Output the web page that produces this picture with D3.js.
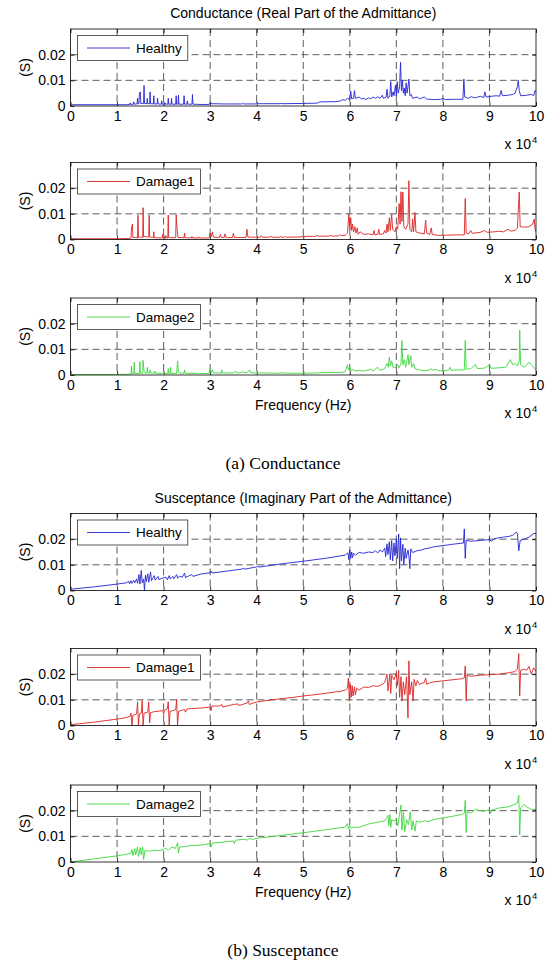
<!DOCTYPE html>
<html>
<head>
<meta charset="utf-8">
<script src="https://cdn.jsdelivr.net/npm/d3@7"></script>
<style>
  body { margin: 0; background: #fff; }
  svg { display: block; }
  text { font-family: "Liberation Sans", Arial, sans-serif; fill: #000; }
</style>
</head>
<body>
<svg id="chart" width="550" height="966"></svg>
<script>
// frequency in units of 10^4 Hz, admittance in S
const freqTicks = [0, 1, 2, 3, 4, 5, 6, 7, 8, 9, 10];
const admTicks = [0, 0.01, 0.02];
const seriesNames = ['Healthy', 'Damage1', 'Damage2'];
const titles = ['Conductance (Real Part of the Admittance)', 'Susceptance (Imaginary Part of the Admittance)'];
const captions = ['(a) Conductance', '(b) Susceptance'];

const condHealthy = [[0,.0005],[1.2,.0005],[1.27,.0006],[1.28,.0012],[1.29,.0006],[1.35,.0007],[1.36,.0016],[1.37,.0007],[1.43,.0008],[1.44,.003],[1.45,.0008],[1.47,.0009],[1.48,.005],[1.5,.0055],[1.51,.001],[1.57,.001],[1.58,.008],[1.59,.001],[1.64,.0009],[1.65,.003],[1.66,.0009],[1.7,.0009],[1.71,.0055],[1.72,.0009],[1.78,.0008],[1.79,.004],[1.8,.0008],[1.86,.0008],[1.87,.003],[1.88,.0008],[1.95,.0007],[1.96,.002],[1.97,.0007],[2.02,.0007],[2.03,.0012],[2.04,.0007],[2.09,.0007],[2.1,.003],[2.11,.0007],[2.16,.0007],[2.17,.003],[2.18,.0007],[2.26,.0007],[2.27,.004],[2.28,.0007],[2.31,.0007],[2.32,.0042],[2.33,.0007],[2.43,.0007],[2.44,.004],[2.45,.0007],[2.5,.0007],[2.51,.002],[2.52,.0007],[2.61,.0007],[2.62,.0045],[2.63,.0007],[2.8,.0006],[2.98,.0006],[3.0,.0015],[3.03,.0009],[3.3,.0008],[3.68,.0008],[3.7,.0011],[3.72,.0008],[3.98,.0008],[4.0,.0013],[4.03,.0009],[4.5,.0009],[4.52,.0011],[4.54,.0009],[5.0,.001],[5.3,.0011],[5.35,.0016],[5.7,.0017],[5.8,.002],[5.85,.0025],[5.9,.0022],[5.95,.003],[6.0,.0025],[6.02,.0058],[6.04,.0028],[6.08,.003],[6.1,.006],[6.12,.003],[6.2,.0035],[6.25,.0028],[6.3,.003],[6.35,.0025],[6.4,.0032],[6.45,.0028],[6.5,.0035],[6.55,.003],[6.6,.0036],[6.65,.003],[6.7,.0042],[6.72,.003],[6.78,.0035],[6.8,.0065],[6.82,.003],[6.86,.004],[6.88,.0095],[6.9,.0035],[6.93,.0055],[6.95,.004],[6.98,.008],[7.0,.004],[7.02,.0095],[7.04,.005],[7.07,.0075],[7.09,.017],[7.11,.006],[7.13,.01],[7.15,.005],[7.17,.007],[7.19,.004],[7.21,.009],[7.23,.005],[7.25,.0075],[7.27,.0105],[7.29,.004],[7.32,.0045],[7.35,.003],[7.45,.0035],[7.5,.0028],[7.6,.0035],[7.65,.0027],[7.8,.0025],[7.95,.0026],[8.0,.003],[8.05,.0025],[8.2,.0026],[8.43,.0026],[8.45,.0105],[8.47,.0035],[8.55,.003],[8.6,.0036],[8.7,.0032],[8.8,.0038],[8.88,.0033],[8.9,.0055],[8.93,.0035],[9.05,.0038],[9.15,.004],[9.22,.0038],[9.25,.006],[9.28,.004],[9.4,.0042],[9.5,.0045],[9.55,.005],[9.6,.0075],[9.62,.01],[9.64,.006],[9.67,.004],[9.8,.0042],[9.9,.0045],[9.95,.004],[9.98,.006],[10,.0055]];

const condDamage1 = [[0,.0003],[1.0,.0003],[1.25,.0004],[1.3,.0006],[1.31,.0045],[1.33,.006],[1.34,.0008],[1.4,.0008],[1.44,.0006],[1.45,.0095],[1.46,.0008],[1.5,.001],[1.52,.0008],[1.55,.0008],[1.56,.0124],[1.57,.001],[1.6,.0012],[1.63,.001],[1.68,.001],[1.69,.0095],[1.7,.001],[1.78,.0008],[1.79,.003],[1.8,.0007],[1.97,.0006],[1.98,.002],[1.99,.0006],[2.04,.0006],[2.05,.0015],[2.06,.0006],[2.09,.0006],[2.1,.0095],[2.11,.0008],[2.15,.0007],[2.26,.0007],[2.27,.0097],[2.29,.004],[2.31,.0008],[2.44,.0007],[2.45,.0025],[2.46,.0007],[2.6,.0006],[2.61,.0012],[2.62,.0006],[2.75,.0006],[2.76,.001],[2.77,.0006],[2.98,.0006],[3.0,.0025],[3.02,.0012],[3.05,.003],[3.07,.0009],[3.2,.0008],[3.22,.002],[3.24,.0008],[3.3,.0008],[3.32,.0022],[3.34,.0008],[3.48,.0008],[3.5,.0025],[3.52,.0008],[3.77,.0008],[3.79,.004],[3.81,.001],[3.84,.0009],[4.08,.0009],[4.1,.0015],[4.12,.0009],[4.28,.0009],[4.3,.0014],[4.32,.0009],[4.5,.0009],[4.52,.0012],[4.54,.0009],[4.6,.0009],[4.62,.0012],[4.64,.0009],[4.95,.001],[5.0,.0012],[5.2,.0012],[5.28,.0013],[5.3,.0017],[5.32,.0013],[5.55,.0013],[5.6,.0016],[5.62,.0013],[5.75,.0014],[5.8,.0019],[5.82,.0015],[5.9,.0016],[5.95,.0025],[5.98,.01],[6.0,.004],[6.02,.0085],[6.04,.0035],[6.06,.006],[6.08,.003],[6.11,.005],[6.13,.0025],[6.16,.0045],[6.18,.002],[6.22,.003],[6.3,.002],[6.4,.0022],[6.5,.0018],[6.52,.0035],[6.54,.0018],[6.6,.002],[6.62,.004],[6.64,.002],[6.72,.0022],[6.75,.0035],[6.78,.0025],[6.8,.006],[6.82,.003],[6.85,.0085],[6.87,.0035],[6.9,.0098],[6.92,.004],[6.97,.003],[7.0,.005],[7.03,.004],[7.06,.014],[7.08,.006],[7.1,.0186],[7.12,.007],[7.14,.0185],[7.16,.005],[7.2,.004],[7.25,.006],[7.27,.0229],[7.29,.004],[7.33,.003],[7.35,.008],[7.37,.003],[7.4,.0105],[7.42,.003],[7.5,.0025],[7.6,.0022],[7.63,.0075],[7.65,.0025],[7.72,.002],[7.75,.0045],[7.77,.002],[7.9,.0016],[8.1,.0017],[8.3,.0018],[8.46,.0018],[8.48,.016],[8.5,.0025],[8.55,.0022],[8.6,.0035],[8.63,.0024],[8.8,.0028],[8.9,.0035],[8.95,.0028],[9.1,.003],[9.2,.0032],[9.3,.003],[9.4,.004],[9.45,.0033],[9.55,.0035],[9.6,.0045],[9.64,.0185],[9.66,.005],[9.75,.0048],[9.85,.005],[9.93,.006],[9.96,.008],[9.98,.004],[10,.003]];

const condDamage2 = [[0,.0002],[1.0,.0002],[1.25,.0003],[1.3,.0004],[1.31,.0035],[1.32,.0005],[1.36,.0006],[1.37,.005],[1.38,.0006],[1.48,.0006],[1.49,.0052],[1.5,.0007],[1.55,.0007],[1.56,.0057],[1.58,.0015],[1.6,.0008],[1.64,.0008],[1.65,.003],[1.66,.0008],[1.7,.0008],[1.71,.002],[1.72,.0008],[1.8,.0007],[1.81,.0015],[1.82,.0007],[1.98,.0006],[2.0,.001],[2.02,.0006],[2.09,.0006],[2.1,.0025],[2.11,.0006],[2.14,.0006],[2.15,.003],[2.16,.0006],[2.28,.0006],[2.3,.0055],[2.32,.001],[2.35,.0007],[2.44,.0007],[2.45,.002],[2.46,.0007],[2.6,.0006],[2.61,.001],[2.62,.0006],[2.75,.0006],[2.76,.0008],[2.77,.0006],[2.98,.0006],[3.0,.0025],[3.02,.001],[3.05,.002],[3.07,.0008],[3.24,.0008],[3.25,.002],[3.26,.0008],[3.5,.0008],[3.55,.0015],[3.57,.0008],[3.65,.0009],[3.7,.0013],[3.72,.0009],[3.8,.001],[3.85,.002],[3.87,.0009],[4.0,.0008],[4.5,.0007],[4.55,.0009],[4.6,.0007],[5.0,.0007],[5.3,.0008],[5.35,.0009],[5.8,.001],[5.9,.0013],[5.95,.004],[5.97,.002],[6.0,.003],[6.03,.0018],[6.08,.0022],[6.1,.0016],[6.2,.0018],[6.3,.0015],[6.45,.0022],[6.5,.0016],[6.6,.003],[6.65,.0018],[6.75,.0025],[6.8,.0045],[6.83,.003],[6.85,.007],[6.87,.0035],[6.9,.0055],[6.93,.0028],[6.97,.003],[7.03,.004],[7.06,.0028],[7.1,.0045],[7.12,.0134],[7.14,.004],[7.17,.006],[7.2,.003],[7.25,.008],[7.27,.004],[7.31,.0075],[7.33,.003],[7.37,.0045],[7.4,.0025],[7.5,.002],[7.6,.0017],[7.7,.0018],[7.75,.0025],[7.78,.0018],[7.85,.0022],[7.9,.0017],[8.0,.0016],[8.13,.002],[8.15,.003],[8.18,.0018],[8.3,.002],[8.46,.002],[8.48,.0135],[8.5,.0022],[8.6,.0025],[8.7,.004],[8.74,.0025],[8.9,.0027],[9.0,.004],[9.04,.0026],[9.2,.0028],[9.35,.003],[9.45,.006],[9.5,.004],[9.55,.0045],[9.6,.0035],[9.64,.0055],[9.65,.0175],[9.67,.004],[9.75,.003],[9.85,.005],[9.9,.004],[10,.002]];

const suscHealthy = [[0,.0005],[0.5,.0014],[1.0,.0025],[1.2,.003],[1.25,.0036],[1.27,.0026],[1.3,.0038],[1.32,.0028],[1.36,.004],[1.38,.003],[1.42,.0045],[1.44,.0028],[1.47,.0062],[1.49,.0025],[1.52,.0078],[1.54,.003],[1.57,.0045],[1.59,0],[1.61,.006],[1.63,.0035],[1.66,.0065],[1.68,.0032],[1.72,.0072],[1.74,.0038],[1.8,.0058],[1.82,.004],[1.88,.0055],[1.9,.0042],[1.97,.0048],[2.05,.0052],[2.08,.0042],[2.12,.0058],[2.14,.0045],[2.2,.0055],[2.22,.0046],[2.28,.0062],[2.3,.0048],[2.34,.0056],[2.4,.0052],[2.45,.0068],[2.47,.005],[2.55,.0058],[2.6,.0062],[2.63,.0055],[2.8,.0064],[3.0,.0069],[3.02,.0076],[3.04,.0068],[3.5,.0079],[3.7,.0084],[3.72,.0088],[3.74,.0083],[4.0,.0092],[4.02,.0096],[4.04,.0091],[4.5,.0103],[5.0,.0114],[5.5,.0126],[5.9,.0138],[5.96,.0147],[5.98,.012],[6.0,.0158],[6.02,.0125],[6.04,.015],[6.06,.0128],[6.08,.0145],[6.12,.0138],[6.2,.0148],[6.3,.0145],[6.4,.015],[6.5,.0148],[6.55,.0155],[6.6,.0146],[6.65,.0158],[6.7,.015],[6.75,.0165],[6.77,.0132],[6.8,.0182],[6.82,.014],[6.85,.019],[6.87,.012],[6.9,.0195],[6.92,.0115],[6.95,.0185],[6.97,.0135],[7.0,.02],[7.02,.0125],[7.05,.022],[7.07,.0085],[7.09,.0205],[7.11,.0115],[7.14,.018],[7.16,.01],[7.19,.0165],[7.21,.0125],[7.25,.0158],[7.27,.0135],[7.29,.0085],[7.31,.0162],[7.35,.0148],[7.45,.0155],[7.55,.0158],[7.6,.0162],[7.7,.0165],[7.8,.017],[8.0,.0175],[8.2,.018],[8.44,.0185],[8.46,.024],[8.48,.0125],[8.5,.0195],[8.6,.0192],[8.8,.0195],[9.0,.0198],[9.05,.0192],[9.1,.0202],[9.3,.0208],[9.4,.021],[9.5,.0215],[9.58,.0228],[9.6,.0222],[9.63,.0155],[9.66,.0195],[9.75,.02],[9.85,.0208],[9.95,.0222],[10,.0222]];

const suscDamage1 = [[0,.0003],[0.5,.0013],[1.0,.0025],[1.2,.0031],[1.28,.0036],[1.3,.0048],[1.32,0],[1.34,.004],[1.38,.0042],[1.42,.0045],[1.44,.0092],[1.46,0],[1.48,.0045],[1.52,.0048],[1.54,.0097],[1.56,0],[1.58,.0048],[1.62,.005],[1.66,.0052],[1.68,.0092],[1.7,.001],[1.72,.005],[1.8,.0054],[1.9,.0056],[1.98,.0058],[2.0,.0045],[2.02,.006],[2.08,.0065],[2.1,.0092],[2.12,0],[2.14,.0055],[2.2,.0058],[2.26,.0062],[2.28,.0102],[2.3,0],[2.32,.0055],[2.4,.006],[2.45,.0062],[2.47,.0052],[2.5,.0064],[2.6,.0066],[2.8,.0068],[3.0,.0072],[3.02,.0058],[3.04,.0076],[3.2,.0076],[3.25,.0082],[3.27,.0072],[3.5,.0082],[3.6,.0084],[3.62,.0078],[3.8,.0088],[3.82,.0096],[3.84,.0082],[4.0,.0092],[4.3,.0099],[4.5,.0104],[4.8,.011],[5.0,.0115],[5.3,.0121],[5.5,.0126],[5.7,.0131],[5.72,.0135],[5.74,.013],[5.9,.0138],[5.95,.0145],[5.97,.0185],[5.99,.0095],[6.01,.016],[6.03,.011],[6.05,.0155],[6.07,.0115],[6.1,.015],[6.12,.012],[6.15,.0145],[6.2,.0138],[6.3,.015],[6.4,.0148],[6.5,.0155],[6.6,.0152],[6.7,.016],[6.75,.0168],[6.8,.02],[6.82,.0135],[6.86,.02],[6.88,.0125],[6.9,.0195],[6.95,.0178],[7.0,.0205],[7.02,.0155],[7.05,.0215],[7.07,.011],[7.1,.019],[7.12,.0095],[7.15,.017],[7.18,.012],[7.22,.019],[7.25,.003],[7.27,.0252],[7.29,.012],[7.33,.017],[7.36,.0095],[7.38,.018],[7.42,.0155],[7.45,.0175],[7.5,.016],[7.6,.0168],[7.63,.0185],[7.65,.016],[7.7,.0165],[7.8,.017],[8.0,.0174],[8.2,.0178],[8.4,.0182],[8.46,.0186],[8.48,.0232],[8.5,.0095],[8.52,.0195],[8.6,.0192],[8.8,.0196],[9.0,.0198],[9.2,.02],[9.4,.0205],[9.55,.021],[9.6,.022],[9.63,.028],[9.65,.0115],[9.67,.0215],[9.75,.022],[9.8,.0215],[9.85,.023],[9.9,.02],[9.95,.0225],[10,.021]];

const suscDamage2 = [[0,0],[0.5,.0012],[1.0,.0024],[1.2,.003],[1.3,.0034],[1.32,.005],[1.34,.0025],[1.38,.0052],[1.4,.0028],[1.44,.0058],[1.46,.0022],[1.5,.0056],[1.52,.0028],[1.55,.0058],[1.57,.001],[1.6,.0045],[1.7,.0042],[1.8,.0046],[1.9,.0044],[2.0,.0048],[2.05,.0054],[2.1,.0045],[2.15,.0055],[2.2,.0058],[2.25,.0052],[2.3,.0075],[2.32,.0035],[2.34,.0058],[2.45,.006],[2.6,.0064],[2.8,.0066],[3.0,.0072],[3.02,.0058],[3.05,.0074],[3.2,.0076],[3.5,.0082],[3.52,.0072],[3.55,.0085],[3.7,.0088],[3.8,.0086],[3.85,.0092],[3.9,.0088],[4.0,.0092],[4.5,.0103],[5.0,.0114],[5.5,.0126],[5.9,.0136],[5.95,.015],[5.97,.0128],[6.0,.0142],[6.03,.0132],[6.08,.0136],[6.2,.0135],[6.4,.0148],[6.6,.0155],[6.75,.016],[6.8,.0175],[6.82,.0182],[6.84,.0142],[6.86,.0185],[6.88,.0135],[6.9,.0165],[6.95,.016],[7.0,.0165],[7.03,.014],[7.06,.0175],[7.1,.0222],[7.12,.0125],[7.15,.0195],[7.18,.0118],[7.22,.0165],[7.26,.0145],[7.3,.0195],[7.33,.0125],[7.36,.016],[7.4,.012],[7.43,.016],[7.5,.0155],[7.6,.016],[7.7,.0158],[7.8,.0165],[8.0,.0172],[8.2,.0178],[8.4,.0185],[8.46,.019],[8.48,.024],[8.5,.0115],[8.52,.0195],[8.6,.019],[8.7,.0205],[8.8,.02],[8.9,.0198],[9.0,.0205],[9.02,.0188],[9.05,.0202],[9.2,.021],[9.4,.0215],[9.55,.0225],[9.6,.023],[9.63,.026],[9.65,.0105],[9.67,.021],[9.75,.0225],[9.8,.0215],[9.9,.0205],[10,.0205]];

const colors = ['#2424d4', '#dc2424', '#3cd83c'];

const svg = d3.select('#chart');
const x = d3.scaleLinear().domain([0, 10]).range([70.5, 536]);
const plotH = 77;

const panels = [
  { data: condHealthy, series: 0, top: 29 },
  { data: condDamage1, series: 1, top: 162.5 },
  { data: condDamage2, series: 2, top: 298, last: true },
  { data: suscHealthy, series: 0, top: 513.5 },
  { data: suscDamage1, series: 1, top: 648.5 },
  { data: suscDamage2, series: 2, top: 785, last: true }
];

panels.forEach((p, i) => {
  const y = d3.scaleLinear().domain([0, 0.03]).range([p.top + plotH, p.top]);
  const g = svg.append('g');
  const bottom = p.top + plotH;

  // grid
  g.append('g').selectAll('line')
    .data(freqTicks.slice(1, -1))
    .join('line')
    .attr('x1', d => x(d)).attr('x2', d => x(d))
    .attr('y1', p.top).attr('y2', bottom)
    .attr('stroke', '#333').attr('stroke-width', 0.8)
    .attr('stroke-dasharray', '7,4');
  g.append('g').selectAll('line')
    .data(admTicks.slice(1))
    .join('line')
    .attr('x1', x(0)).attr('x2', x(10))
    .attr('y1', d => y(d)).attr('y2', d => y(d))
    .attr('stroke', '#333').attr('stroke-width', 0.8)
    .attr('stroke-dasharray', '7,4');

  // axes, ticks inward
  const xb = g.append('g')
    .attr('transform', 'translate(0,' + bottom + ')')
    .call(d3.axisBottom(x).tickValues(freqTicks).tickSize(-4).tickPadding(5).tickFormat(d3.format('d')));
  const xt = g.append('g')
    .attr('transform', 'translate(0,' + p.top + ')')
    .call(d3.axisTop(x).tickValues(freqTicks).tickSize(-4).tickFormat(''));
  const yl = g.append('g')
    .attr('transform', 'translate(' + x(0) + ',0)')
    .call(d3.axisLeft(y).tickValues(admTicks).tickSize(-4).tickPadding(5).tickFormat(d => d === 0 ? '0' : d3.format('.2f')(d)));
  const yr = g.append('g')
    .attr('transform', 'translate(' + x(10) + ',0)')
    .call(d3.axisRight(y).tickValues(admTicks).tickSize(-4).tickFormat(''));
  [xb, xt, yl, yr].forEach(a => {
    a.select('.domain').remove();
    a.selectAll('line').attr('stroke', '#000').attr('stroke-width', 0.8);
    a.selectAll('text').attr('font-size', 14).attr('font-family', '"Liberation Sans", Arial, sans-serif');
  });

  // data line
  const clipId = 'clip' + i;
  svg.append('clipPath').attr('id', clipId)
    .append('rect').attr('x', x(0)).attr('y', p.top).attr('width', x(10) - x(0)).attr('height', plotH);
  g.append('path')
    .datum(p.data)
    .attr('clip-path', 'url(#' + clipId + ')')
    .attr('fill', 'none')
    .attr('stroke', colors[p.series])
    .attr('stroke-width', 0.9)
    .attr('stroke-linejoin', 'round')
    .attr('d', d3.line().x(d => x(d[0])).y(d => y(d[1])));

  // box
  g.append('rect')
    .attr('x', x(0)).attr('y', p.top)
    .attr('width', x(10) - x(0)).attr('height', plotH)
    .attr('fill', 'none').attr('stroke', '#000').attr('stroke-width', 0.8);

  // y label
  g.append('text')
    .attr('transform', 'translate(30,' + (p.top + plotH / 2) + ') rotate(-90)')
    .attr('text-anchor', 'middle')
    .attr('font-size', 14)
    .text('(S)');

  // x 10^4
  g.append('text')
    .attr('x', 531).attr('y', bottom + 43)
    .attr('text-anchor', 'end')
    .attr('font-size', 14)
    .text('x 10');
  g.append('text')
    .attr('x', 532).attr('y', bottom + 37)
    .attr('font-size', 9.5)
    .text('4');

  // legend
  const lg = g.append('g');
  const box = lg.append('rect')
    .attr('x', 77.5).attr('y', p.top + 6.5)
    .attr('height', 25)
    .attr('fill', '#fff').attr('stroke', '#333').attr('stroke-width', 0.8);
  lg.append('line')
    .attr('x1', 87).attr('x2', 130)
    .attr('y1', p.top + 19).attr('y2', p.top + 19)
    .attr('stroke', colors[p.series]).attr('stroke-width', 0.9);
  const lt = lg.append('text')
    .attr('x', 136).attr('y', p.top + 23.5)
    .attr('font-size', 13.5)
    .text(seriesNames[p.series]);
  box.attr('width', 136 + lt.node().getComputedTextLength() + 6 - 77.5);

  if (p.last) {
    g.append('text')
      .attr('x', (x(0) + x(10)) / 2).attr('y', bottom + 35)
      .attr('text-anchor', 'middle')
      .attr('font-size', 14)
      .text('Frequency (Hz)');
  }
});

// titles and captions
[29, 513.5].forEach((t, i) => {
  svg.append('text')
    .attr('x', (x(0) + x(10)) / 2).attr('y', t - 11)
    .attr('text-anchor', 'middle')
    .attr('font-size', 14)
    .text(titles[i]);
});
[469, 956].forEach((yy, i) => {
  svg.append('text')
    .attr('x', 283).attr('y', yy)
    .attr('text-anchor', 'middle')
    .attr('font-size', 17.5)
    .style('font-family', '"Liberation Serif", "Times New Roman", serif')
    .text(captions[i]);
});
</script>
</body>
</html>
